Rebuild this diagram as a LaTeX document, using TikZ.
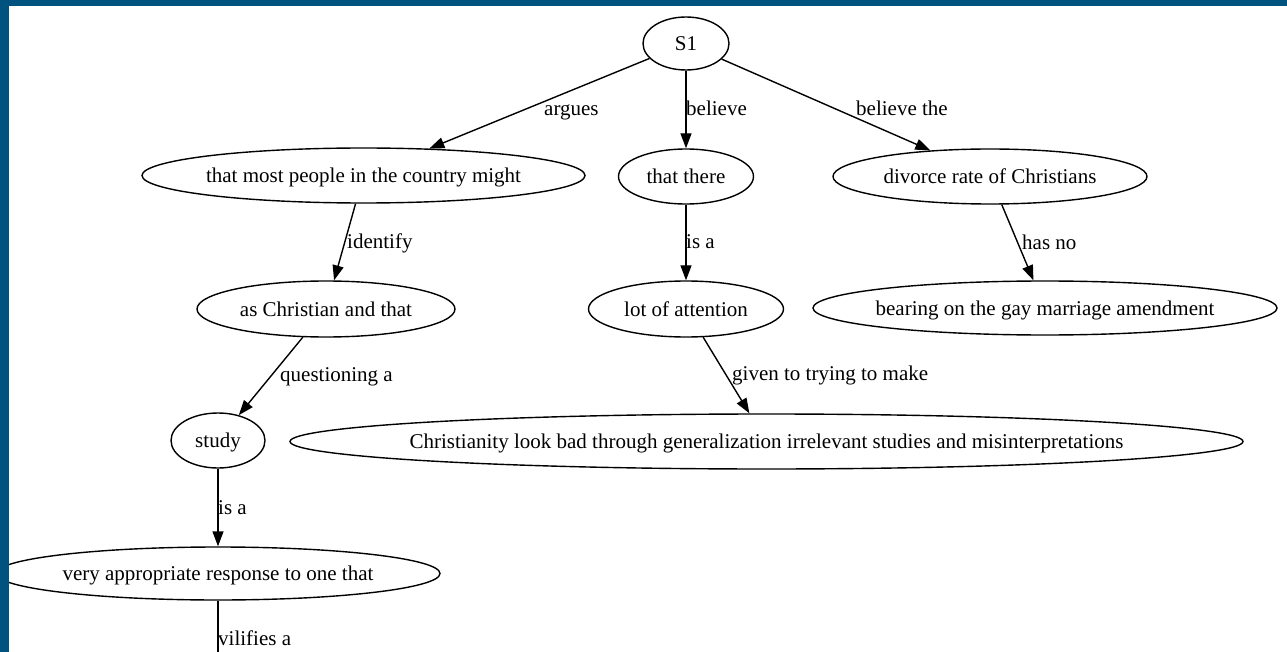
\documentclass[tikz,border=0pt]{standalone}
\usepackage{fontspec}
\setmainfont{Liberation Serif}
\usetikzlibrary{shapes.geometric,arrows.meta}
\definecolor{frameblue}{RGB}{0,82,127}
\begin{document}
\begin{tikzpicture}[x=1pt,y=-1pt,
  every node/.style={font=\fontsize{21}{25}\selectfont},
  ell/.style={ellipse,draw,line width=1.4pt,inner xsep=-80pt,inner ysep=0pt,minimum height=55pt,text depth=0pt},
  lbl/.style={anchor=base west,inner sep=0pt},
  edge/.style={line width=1.4pt,-{Triangle[length=15pt,width=11pt]}},
  plain/.style={line width=1.4pt}]
\fill[white] (0,0) rectangle (1287,652);
\useasboundingbox (0,0) rectangle (1287,652);
% nodes
\node[ell,minimum width=86pt,minimum height=53pt] (s1) at (686,43.5) {S1};
\node[ell,minimum width=443pt] (most) at (363.5,175.5) {that most people in the country might};
\node[ell,minimum width=135pt] (there) at (686,176.5) {that there};
\node[ell,minimum width=314pt] (div) at (990,176.5) {divorce rate of Christians};
\node[ell,minimum width=258pt,minimum height=56pt] (asch) at (326,309) {as Christian and that};
\node[ell,minimum width=195pt,minimum height=56pt] (lot) at (686,309) {lot of attention};
\node[ell,minimum width=464pt,minimum height=54pt] (bear) at (1045,308) {bearing on the gay marriage amendment};
\node[ell,minimum width=94pt] (study) at (218,440.5) {study};
\node[ell,minimum width=953pt] (chr) at (766.5,441.5) {Christianity look bad through generalization irrelevant studies and misinterpretations};
\node[ell,minimum width=444pt,minimum height=53pt] (very) at (218,573.5) {very appropriate response to one that};
\coordinate (vend) at (218,660);
% edges
\draw[edge] (s1) -- (most);
\draw[edge] (s1) -- (there);
\draw[edge] (s1) -- (div);
\draw[edge] (most) -- (asch);
\draw[edge] (there) -- (lot);
\draw[edge] (div) -- (bear);
\draw[edge] (asch) -- (study);
\draw[edge] (lot) -- (chr);
\draw[edge] (study) -- (very);
\draw[plain] (very) -- (vend);
% labels
\node[lbl] (l1) at (544,116) {argues};
\node[lbl] (l2) at (686,116) {believe};
\node[lbl] (l3) at (856,116) {believe the};
\node[lbl] (l4) at (347,249) {identify};
\node[lbl] (l5) at (686,249) {is a};
\node[lbl] (l6) at (1022,250) {has no};
\node[lbl] (l7) at (280,381) {questioning a};
\node[lbl] (l8) at (732,380) {given to trying to make};
\node[lbl] (l9) at (218,514) {is a};
\node[lbl] (l10) at (218,645) {vilifies a};
% frame
\fill[frameblue] (0,0) rectangle (1287,6);
\fill[frameblue] (0,0) rectangle (8.7,652);
\end{tikzpicture}
\end{document}
